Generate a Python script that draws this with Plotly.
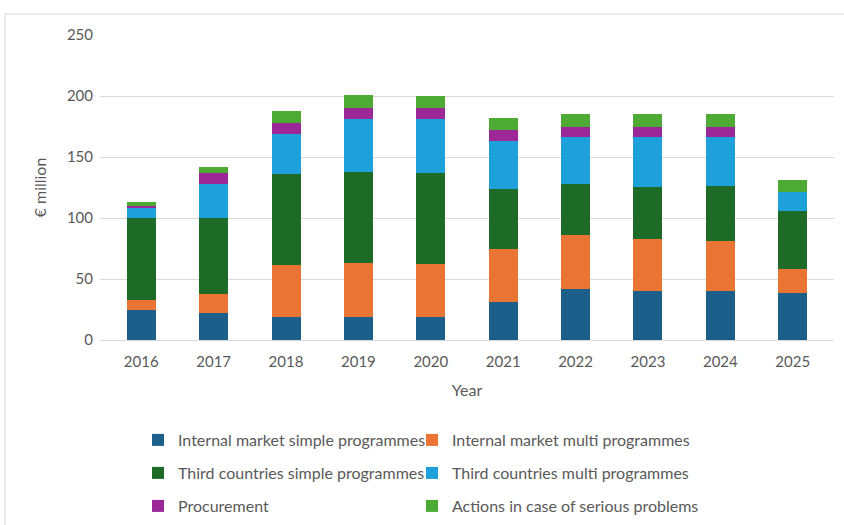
import plotly.graph_objects as go

years = ["2016", "2017", "2018", "2019", "2020", "2021", "2022", "2023", "2024", "2025"]

internal_simple = [25, 22, 19, 19, 19, 31, 41.5, 40, 40, 38.5]
internal_multi = [8, 15.5, 42.5, 44.5, 43.5, 44, 44.5, 43, 41, 19.5]
third_simple = [67, 62.5, 74.5, 74, 74.5, 49, 41.5, 42.5, 45.5, 48]
third_multi = [8, 28, 33, 43.5, 44, 39.5, 38.5, 40.5, 39.5, 15.5]
procurement = [2, 9, 9, 9, 9, 8.5, 9, 9, 9, 0]
serious_problems = [3, 5, 10, 11, 10, 10, 10.5, 10.5, 10, 10]

FONT = "Lato"
GREY = "#595959"
W, H = 844, 525
ML, MR, MT, MB = 100, 10, 35, 185
PW, PH = W - ML - MR, H - MT - MB


def paper_x(px):
    return (px - ML) / PW


def paper_y(px):
    return (H - MB - px) / PH


# name, values, colour, legend slot (column x, row y in pixels)
series = [
    ("Internal market simple programmes", internal_simple, "#1b5f8a", (138, 440)),
    ("Internal market multi programmes", internal_multi, "#ea7433", (412, 440)),
    ("Third countries simple programmes", third_simple, "#1d6b27", (138, 473)),
    ("Third countries multi programmes", third_multi, "#1ea1db", (412, 473)),
    ("Procurement", procurement, "#9b2896", (138, 506)),
    ("Actions in case of serious problems", serious_problems, "#4caa35", (412, 506)),
]

fig = go.Figure()
legends = {}
for i, (name, vals, color, (lx, ly)) in enumerate(series):
    key = "legend" if i == 0 else f"legend{i + 1}"
    fig.add_trace(go.Bar(
        x=years, y=vals, name=name, marker_color=color,
        marker_line_width=0, legend=key, showlegend=True,
    ))
    legends[key] = dict(
        x=paper_x(lx), y=paper_y(ly), orientation="h",
        font=dict(family=FONT, size=16, color=GREY),
        xanchor="left", yanchor="middle", bgcolor="rgba(0,0,0,0)",
        itemclick=False, visible=True,
    )

fig.update_layout(
    width=W, height=H, showlegend=True,
    barmode="stack", bargap=0.6,
    plot_bgcolor="white", paper_bgcolor="white",
    margin=dict(l=ML, r=MR, t=MT, b=MB, autoexpand=False),
    font=dict(family=FONT, size=15, color=GREY),
    xaxis=dict(
        range=[-0.57, 9.57], showgrid=False, ticks="",
        showline=True, linecolor="#d9d9d9", linewidth=1,
        tickfont=dict(family=FONT, size=15, color=GREY),
        title=dict(text="Year", font=dict(family=FONT, size=16, color=GREY), standoff=15),
        ticklabelstandoff=8,
    ),
    yaxis=dict(
        range=[0, 250], dtick=50, showgrid=True, gridcolor="#d9d9d9", gridwidth=1,
        zeroline=False, ticks="",
        tickfont=dict(family=FONT, size=15, color=GREY),
        title=dict(text="€ million", font=dict(family=FONT, size=16, color=GREY), standoff=16),
        ticklabelstandoff=6,
    ),
    shapes=[dict(
        type="rect", xref="paper", yref="paper",
        x0=paper_x(5), x1=paper_x(900),
        y0=paper_y(600), y1=paper_y(14),
        line=dict(color="#d9d9d9", width=1), fillcolor="rgba(0,0,0,0)", layer="below",
    )],
    **legends,
)

fig.write_html("out.html")
